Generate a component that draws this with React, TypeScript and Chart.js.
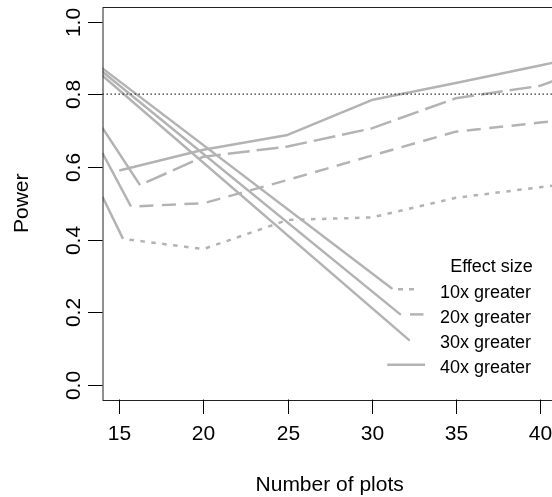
import React, { useEffect, useRef } from 'react';
import { Chart, registerables } from 'chart.js';

Chart.register(...registerables);

// ---------------- data ----------------
const xTicks = [15, 20, 25, 30, 35, 40];
const yTicks = [0, 0.2, 0.4, 0.6, 0.8, 1.0];
const yTickLabels = ['0.0', '0.2', '0.4', '0.6', '0.8', '1.0'];
const xTitle = 'Number of plots';
const yTitle = 'Power';
const legendTitle = 'Effect size';
const seriesNames = ['10x greater', '20x greater', '30x greater', '40x greater'];

// effect size series (number of plots vs power)
const plots10 = [14, 15.22, 20, 25, 30, 35, 40, 41];
const power10 = [0.518, 0.402, 0.374, 0.454, 0.461, 0.515, 0.544, 0.55];
const plots20 = [14, 15.69, 20, 25, 30, 35, 40, 41];
const power20 = [0.638, 0.491, 0.5, 0.564, 0.631, 0.697, 0.722, 0.727];
const plots30 = [14, 16.23, 20, 25, 30, 35, 40, 41];
const power30 = [0.707, 0.55, 0.628, 0.656, 0.706, 0.789, 0.823, 0.84];
const plots40 = [15, 20, 25, 30, 35, 40, 41];
const power40 = [0.59, 0.647, 0.688, 0.784, 0.831, 0.879, 0.889];

// falling solid lines
const fallPlots10 = [14, 31.18];
const fallPower10 = [0.871, 0.266];
const fallPlots20 = [14, 31.68];
const fallPower20 = [0.862, 0.195];
const fallPlots30 = [14, 32.21];
const fallPower30 = [0.851, 0.124];

// target power reference line
const targetPlots = [14, 41];
const targetPower = [0.8, 0.8];

const xMin = 14;
const xMax = 41;
const yMin = -0.04;
const yMax = 1.04;

// ---------------- styles ----------------
const GRAY = '#b3b3b3';
const LINE_W = 2.5;
const dash10 = [4.5, 6.5];
const dash20 = [14, 8.5];
const dash30 = [22, 7];
const AXIS_FONT = '21px "Liberation Sans", Arial, sans-serif';
const LEGEND_FONT = '18px "Liberation Sans", Arial, sans-serif';

const pts = (xs: number[], ys: number[]) => xs.map((x, i) => ({ x, y: ys[i] }));

const seriesDs = (xs: number[], ys: number[], dash: number[] | null) => ({
  data: pts(xs, ys),
  borderColor: GRAY,
  borderWidth: LINE_W,
  pointRadius: 0,
  tension: 0,
  borderJoinStyle: 'round',
  borderCapStyle: 'butt',
  segment: dash
    ? {
        borderDash: (c: any) => (c.p0DataIndex === 0 ? [] : dash),
        borderDashOffset: (c: any) => (c.p0DataIndex === 0 ? 0 : dash[0]),
      }
    : undefined,
});

const solidDs = (xs: number[], ys: number[]) => ({
  data: pts(xs, ys),
  borderColor: GRAY,
  borderWidth: LINE_W,
  pointRadius: 0,
  tension: 0,
  borderCapStyle: 'round',
});

const axesPlugin = {
  id: 'rAxes',
  afterDatasetsDraw(chart: any) {
    const { ctx, chartArea, scales } = chart;
    const { left, right, top, bottom } = chartArea;
    const xs = scales.x;
    const ys = scales.y;
    ctx.save();
    // box
    ctx.strokeStyle = '#222';
    ctx.lineWidth = 1;
    ctx.setLineDash([]);
    ctx.strokeRect(Math.round(left), Math.round(top) + 0.5, right - left, Math.round(bottom) - Math.round(top));
    ctx.strokeStyle = '#000';
    // y axis ticks + labels
    ctx.fillStyle = '#000';
    ctx.font = AXIS_FONT;
    yTicks.forEach((v, i) => {
      const py = Math.round(ys.getPixelForValue(v)) + 0.5;
      ctx.beginPath();
      ctx.moveTo(left - 14.5, py);
      ctx.lineTo(left, py);
      ctx.stroke();
      ctx.save();
      ctx.translate(left - 22.5, py);
      ctx.rotate(-Math.PI / 2);
      ctx.textAlign = 'center';
      ctx.textBaseline = 'alphabetic';
      ctx.fillText(yTickLabels[i], 0, 0);
      ctx.restore();
    });
    // x axis ticks + labels
    xTicks.forEach((v) => {
      const px = Math.round(xs.getPixelForValue(v)) + 0.5;
      ctx.beginPath();
      ctx.moveTo(px, bottom);
      ctx.lineTo(px, bottom + 14.5);
      ctx.stroke();
      ctx.textAlign = 'center';
      ctx.textBaseline = 'alphabetic';
      ctx.fillText(String(v), px, bottom + 40);
    });
    // titles
    ctx.textAlign = 'center';
    ctx.fillText(xTitle, (left + right) / 2, bottom + 91);
    ctx.save();
    ctx.translate(left - 74.5, (top + bottom) / 2);
    ctx.rotate(-Math.PI / 2);
    ctx.fillText(yTitle, 0, 0);
    ctx.restore();
    ctx.restore();
  },
};

const legendPlugin = {
  id: 'rLegend',
  afterDraw(chart: any) {
    const { ctx, chartArea } = chart;
    const textX = chartArea.left + 337.5;
    const titleBase = chartArea.top + 265.3;
    const step = 25.2;
    // key segments [start, end, dash] relative to chart left
    const keys: ([number, number, number[]] | null)[] = [
      [295.5, 311.5, [5, 6]],
      [307.5, 321, []],
      null,
      [284.8, 322.5, []],
    ];
    ctx.save();
    ctx.fillStyle = '#000';
    ctx.font = LEGEND_FONT;
    ctx.textBaseline = 'alphabetic';
    ctx.textAlign = 'center';
    ctx.fillText(legendTitle, textX + 51.5, titleBase);
    ctx.textAlign = 'left';
    seriesNames.forEach((name, i) => {
      const base = titleBase + step * (i + 1);
      ctx.fillText(name, textX, base);
      const k = keys[i];
      if (k) {
        ctx.strokeStyle = GRAY;
        ctx.lineWidth = LINE_W;
        ctx.lineCap = 'butt';
        ctx.setLineDash(k[2]);
        ctx.beginPath();
        ctx.moveTo(chartArea.left + k[0], base - 8.3);
        ctx.lineTo(chartArea.left + k[1], base - 8.3);
        ctx.stroke();
      }
    });
    ctx.restore();
  },
};

export default function App() {
  const ref = useRef<HTMLCanvasElement | null>(null);
  useEffect(() => {
    if (!ref.current) return;
    const chart = new Chart(ref.current, {
      type: 'line',
      data: {
        datasets: [
          {
            data: pts(targetPlots, targetPower),
            borderColor: '#222',
            borderWidth: 1.3,
            borderDash: [1.4, 2.6],
            pointRadius: 0,
          },
          seriesDs(plots10, power10, dash10),
          seriesDs(plots20, power20, dash20),
          seriesDs(plots30, power30, dash30),
          seriesDs(plots40, power40, null),
          solidDs(fallPlots10, fallPower10),
          solidDs(fallPlots20, fallPower20),
          solidDs(fallPlots30, fallPower30),
        ] as any,
      },
      options: {
        responsive: false,
        animation: false,
        devicePixelRatio: 1,
        layout: { padding: { left: 102.5, right: 13.2, top: 7, bottom: 97.5 } },
        scales: {
          x: { type: 'linear', min: xMin, max: xMax, display: false },
          y: { type: 'linear', min: yMin, max: yMax, display: false },
        },
        plugins: { legend: { display: false }, tooltip: { enabled: false } },
        events: [],
      } as any,
      plugins: [axesPlugin, legendPlugin],
    });
    return () => chart.destroy();
  }, []);
  return (
    <div style={{ position: 'fixed', left: 0, top: 0, width: 552, height: 497, overflow: 'hidden', background: '#fff' }}>
      <canvas ref={ref} width={570} height={497} style={{ display: 'block' }} />
    </div>
  );
}
